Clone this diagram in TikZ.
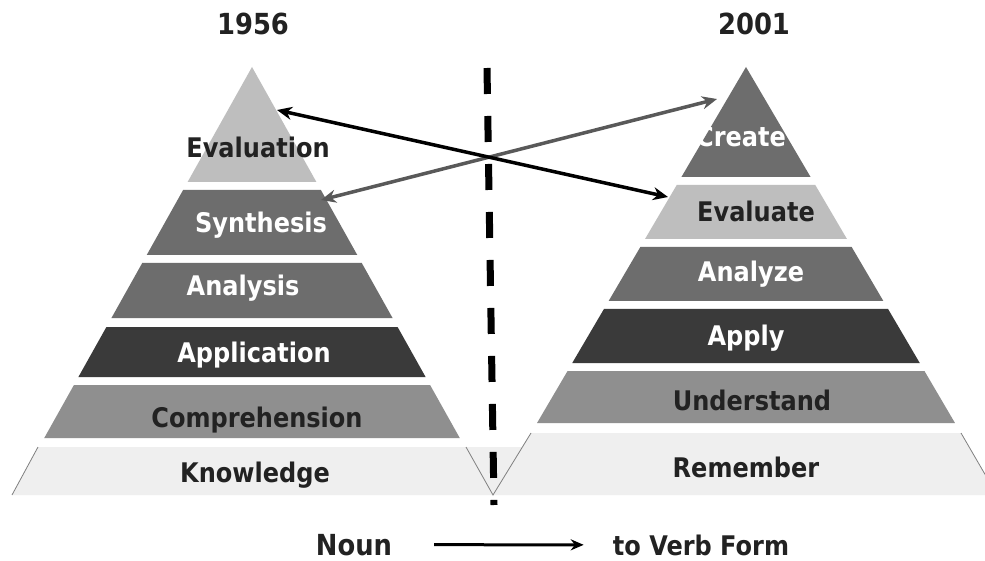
\documentclass[tikz,border=0pt]{standalone}
\usepackage{fontspec}
\newfontfamily\bandfont[FakeStretch=0.89]{DejaVu Sans}
\usetikzlibrary{arrows.meta}

\definecolor{lightgray}{HTML}{BEBEBE}
\definecolor{midgray}{HTML}{6D6D6D}
\definecolor{darkgray}{HTML}{3A3A3A}
\definecolor{compgray}{HTML}{8F8F8F}
\definecolor{palegray}{HTML}{EFEFEF}
\definecolor{darktext}{HTML}{222222}
\definecolor{arrowgray}{HTML}{595959}

\tikzset{
  band/.style={font={\bandfont\bfseries\fontsize{27}{30}\selectfont}, inner sep=0pt, anchor=base},
  yeartitle/.style={font={\bandfont\bfseries\fontsize{29}{32}\selectfont}, inner sep=0pt, anchor=base, text=darktext},
  crossarrow/.style={line width=3.5pt, {Stealth[length=15pt,width=13pt]}-{Stealth[length=15pt,width=13pt]}},
  edgeline/.style={draw=gray, line width=0.8pt}
}

\begin{document}
\begin{tikzpicture}[x=1pt, y=-1pt]
    \clip (0,0) rectangle (985,561);
    \fill[white] (0,0) rectangle (985,561);

    % Bottom strip (Knowledge / Remember)
    \fill[palegray] (12,495) -- (38,447) -- (522,447) -- (531,433) -- (961,433) -- (997,495) -- cycle;
    \draw[edgeline] (38,447) -- (12,495);
    \draw[edgeline] (466,447) -- (493,495) -- (531,433);
    \draw[edgeline] (961,433) -- (997,495);

    % 1956 pyramid
    \foreach \t/\b/\c/\tc/\nm/\lx/\ly/\lab in {67/182/lightgray/darktext/evaluation/258/158/Evaluation,
      190/255/midgray/white/synthesis/261/233/Synthesis,
      263/318/midgray/white/analysis/243/295/Analysis,
      327/377/darkgray/white/application/254/362/Application,
      385/438/compgray/darktext/comprehension/257/427/Comprehension} {
      \fill[\c] ({252-0.56*(\t-67)},\t) -- ({252+0.56*(\t-67)},\t) -- ({252+0.56*(\b-67)},\b) -- ({252-0.56*(\b-67)},\b) -- cycle;
      \node[band, text=\tc] (\nm) at (\lx,\ly) {\lab};
    }
    \node[band, text=darktext] (knowledge) at (255,482) {Knowledge};

    % 2001 pyramid
    \foreach \t/\b/\c/\tc/\nm/\lx/\ly/\lab in {67/177/midgray/white/create/741/147/Create,
      185/239/lightgray/darktext/evaluate/756/222/Evaluate,
      247/301/midgray/white/analyze/751/282/Analyze,
      309/363/darkgray/white/apply/746/345/Apply,
      371/423/compgray/darktext/understand/752/410/Understand} {
      \fill[\c] ({746-0.587*(\t-67)},\t) -- ({746+0.587*(\t-67)},\t) -- ({746+0.587*(\b-67)},\b) -- ({746-0.587*(\b-67)},\b) -- cycle;
      \node[band, text=\tc] (\nm) at (\lx,\ly) {\lab};
    }
    \node[band, text=darktext] (remember) at (746,477) {Remember};

    % Years
    \node[yeartitle] (old) at (253,35) {1956};
    \node[yeartitle] (new) at (754,35) {2001};

    % Dividing line
    \coordinate (divtop) at (487,68);
    \coordinate (divbot) at (494,505);
    \draw[line width=7pt, dash pattern=on 26pt off 22pt] (divtop) -- (divbot);

    % Crossing arrows
    \coordinate (evalapex) at (277,110);
    \coordinate (evalside) at (668,197);
    \coordinate (synside) at (321,200);
    \coordinate (createside) at (717,99);
    \draw[crossarrow, arrowgray] (synside) -- (createside);
    \draw[crossarrow, black] (evalapex) -- (evalside);

    % Noun to verb
    \node[yeartitle] (noun) at (354,555) {Noun};
    \node[yeartitle, font={\bandfont\bfseries\fontsize{27}{30}\selectfont}] (verb) at (701,555) {to Verb Form};
    \draw[line width=3pt, -{Stealth[length=13pt,width=11pt]}, shorten <=42pt, shorten >=29pt] (noun) -- (verb);
\end{tikzpicture}
\end{document}
